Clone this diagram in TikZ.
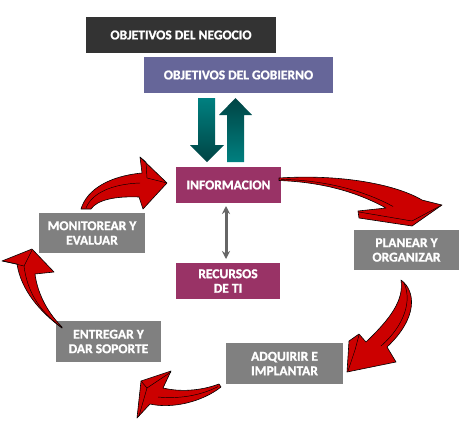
\documentclass[tikz,border=0pt]{standalone}
\usepackage{fontspec}
\setmainfont{Carlito}[BoldFont={Carlito Bold}, BoldFeatures={FakeBold=1.2}]
\usetikzlibrary{arrows.meta}
\definecolor{negro}{HTML}{333333}
\definecolor{gobc}{HTML}{666699}
\definecolor{vino}{HTML}{993366}
\definecolor{gris}{HTML}{808080}
\definecolor{grisosc}{HTML}{666666}
\definecolor{rojo}{HTML}{CC0000}
\definecolor{tealA}{HTML}{008080}
\definecolor{tealB}{HTML}{004444}
\begin{document}
\begin{tikzpicture}[x=1pt,y=-1pt,
 box/.style={rectangle, inner sep=0pt, text=white, font=\bfseries\fontsize{13.5}{14.5}\selectfont, align=center},
 redarrow/.style={fill=rojo, draw=black, line width=0.6pt, line join=round},
 bevel/.style={draw=black, line width=0.45pt}]
\useasboundingbox (0,0) rectangle (468,421);
\fill[white] (0,0) rectangle (468,421);

% boxes
\node[box, fill=negro, minimum width=190pt, minimum height=36pt] (neg) at (181,35) {OBJETIVOS DEL NEGOCIO};
\node[box, fill=gobc, minimum width=189pt, minimum height=36pt] (gob) at (238.5,75) {OBJETIVOS DEL GOBIERNO};
\node[box, fill=vino, minimum width=105pt, minimum height=36pt] (info) at (228.5,185) {INFORMACION};
\node[box, fill=vino, minimum width=104pt, minimum height=36pt] (rec) at (228,281) {RECURSOS\\DE TI};
\node[box, fill=gris, minimum width=106pt, minimum height=40pt] (mon) at (92,233) {MONITOREAR Y\\EVALUAR};
\node[box, fill=gris, minimum width=105pt, minimum height=41pt] (ent) at (108.5,341.5) {ENTREGAR Y\\DAR SOPORTE};
\node[box, fill=gris, minimum width=105pt, minimum height=40pt] (plan) at (406.5,250) {PLANEAR Y\\ORGANIZAR};
\node[box, fill=gris, minimum width=117pt, minimum height=41pt] (adq) at (284.5,363.5) {ADQUIRIR  E\\IMPLANTAR};

% teal arrows
\shade[top color=tealA, bottom color=tealB] (198,98) -- (215,98) -- (215,145) -- (224,145) -- (207,162) -- (190,145) -- (198,145) -- cycle;
\shade[top color=tealB, bottom color=tealA] (235.5,98) -- (252,115) -- (244,115) -- (244,162) -- (227,162) -- (227,115) -- (219,115) -- cycle;

% grey double arrow
\coordinate (da) at (226,206);
\coordinate (db) at (226,259);
\draw[grisosc, line width=3pt, {Stealth[length=8pt,width=8pt]}-{Stealth[length=8pt,width=8pt]}] (da) -- (db);

% red arrow 1: INFORMACION -> PLANEAR
\draw[redarrow] (279,178) .. controls (340,174) and (395,184) .. (422,200)
  -- (442,205) -- (412,226) -- (359,218) -- (358,211) -- (386,208)
  .. controls (355,191) and (320,182) .. (279,180.5) -- cycle;
\draw[bevel] (281,179.4) .. controls (325,180) and (365,191) .. (393,206.5);
\draw[bevel] (359,212) -- (412,221) -- (441,205.5);

% red arrow 5: PLANEAR -> ADQUIRIR
\draw[redarrow] (401,280) .. controls (416,291) and (418,318) .. (387,347)
  -- (396,362) -- (347,372) -- (349,341) -- (359,334) -- (366,342)
  .. controls (391,318) and (404,300) .. (401,280) -- cycle;
\draw[bevel] (404,283) .. controls (412,300) and (405,325) .. (381,346);
\draw[bevel] (359,335) -- (355,350) -- (348,371);

% red arrow 4: ADQUIRIR -> ENTREGAR
\draw[redarrow] (219,384) .. controls (200,391) and (180,392) .. (163,388)
  -- (171,371) -- (141,381) -- (137,418) -- (150,404)
  .. controls (172,409) and (202,402) .. (221,387) -- cycle;
\draw[bevel] (218,386.5) .. controls (200,396) and (178,399) .. (158,397);
\draw[bevel] (141,381) -- (147,388) -- (171,372);
\draw[bevel] (147,388) -- (139,416);

% red arrow 2: ENTREGAR -> MONITOREAR
\draw[redarrow] (62,328) .. controls (40,312) and (21,290) .. (17,264)
  -- (2,261) -- (32,249) -- (54,272) -- (35,274)
  .. controls (37,290) and (45,310) .. (62,327) -- cycle;
\draw[bevel] (61,327) .. controls (38,310) and (27,290) .. (24,266);
\draw[bevel] (3,261) -- (24,266) -- (32,250);

% red arrow 3: MONITOREAR -> INFORMACION
\draw[redarrow] (81,209) .. controls (87,189) and (110,176) .. (142,173)
  -- (140,157) -- (167,183) -- (143,209) -- (139,197)
  .. controls (115,196) and (97,200) .. (91,209) -- cycle;
\draw[bevel] (86,208) .. controls (92,193) and (112,184) .. (140,183);
\draw[bevel] (140,157) -- (146,162) -- (147,178) -- (167,183);
\end{tikzpicture}
\end{document}
